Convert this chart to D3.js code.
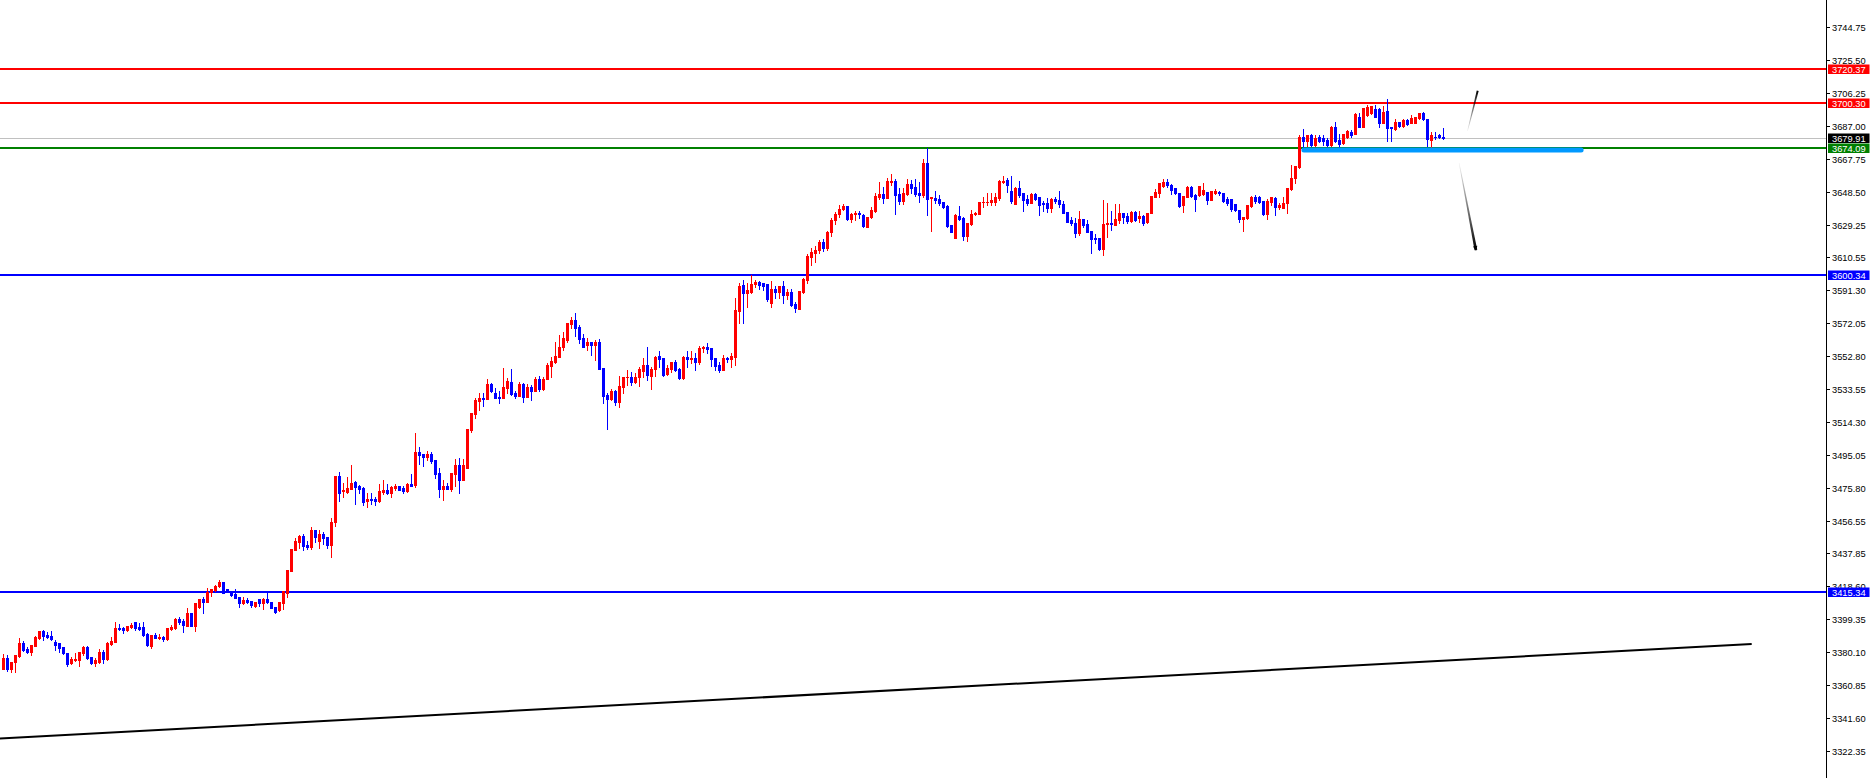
<!DOCTYPE html>
<html><head><meta charset="utf-8">
<script src="https://cdn.jsdelivr.net/npm/d3@7"></script>
<style>html,body{margin:0;padding:0;background:#fff;overflow:hidden}</style>
</head><body><svg id="c" width="1871" height="778"></svg>
<script>
// ---- data ----
const opens=[3370.2,3376.5,3370.2,3374.1,3377.8,3385.2,3381.9,3380.3,3383.8,3388.5,
3392.4,3390.1,3389.5,3386.2,3385.2,3382.9,3379.8,3373.5,3375.5,3375.5,
3379.8,3383.3,3377.4,3373.9,3374.5,3380.3,3376.1,3384.8,3386.2,3394.4,
3394.4,3393.0,3394.9,3397.5,3394.9,3394.6,3390.7,3383.6,3390.1,3388.5,
3389.1,3387.7,3393.6,3394.0,3399.2,3398.4,3395.5,3403.1,3395.5,3406.2,
3411.1,3409.5,3415.4,3416.3,3418.9,3421.2,3416.9,3415.7,3413.8,3412.1,
3408.6,3410.5,3410.1,3407.2,3410.9,3408.6,3411.1,3409.5,3406.6,3404.7,
3408.9,3414.8,3427.6,3439.7,3444.5,3447.8,3442.6,3441.6,3451.4,3445.1,
3448.8,3447.1,3442.6,3456.2,3482.9,3474.1,3473.3,3475.3,3479.6,3477.0,
3475.7,3468.3,3469.4,3469.4,3468.5,3473.3,3474.7,3472.7,3475.7,3477.0,
3475.7,3474.1,3478.2,3477.6,3497.1,3495.7,3494.1,3495.7,3492.2,3484.8,
3475.3,3477.0,3475.3,3484.0,3489.3,3480.5,3487.7,3509.7,3519.0,3526.8,
3528.6,3527.6,3536.4,3531.1,3529.2,3528.6,3534.4,3537.5,3531.1,3529.6,
3536.4,3529.2,3534.6,3532.7,3539.5,3533.4,3539.3,3547.1,3549.6,3552.5,
3557.9,3562.2,3571.6,3573.9,3570.0,3563.2,3559.3,3561.2,3559.3,3561.2,
3546.1,3530.1,3527.6,3532.5,3526.3,3535.0,3540.4,3540.8,3537.9,3540.4,
3544.3,3547.6,3541.4,3545.1,3552.9,3551.5,3542.2,3545.1,3549.6,3545.3,
3539.9,3552.5,3551.1,3551.9,3549.6,3557.3,3558.3,3557.3,3551.9,3547.6,
3544.7,3551.9,3550.9,3552.5,3579.3,3594.3,3589.5,3590.4,3594.7,3596.3,
3595.3,3594.7,3583.6,3592.0,3590.0,3593.7,3588.5,3590.0,3583.2,3580.3,
3590.0,3597.2,3610.5,3613.0,3615.0,3619.5,3616.0,3625.0,3632.5,3636.0,
3638.7,3640.6,3632.8,3635.6,3636.5,3635.2,3628.4,3634.2,3637.7,3645.9,
3647.4,3645.3,3654.6,3655.2,3647.4,3643.3,3647.4,3653.3,3651.7,3648.2,
3646.8,3665.7,3645.0,3644.9,3644.5,3643.0,3640.6,3629.3,3621.9,3634.8,
3633.6,3623.1,3629.9,3635.8,3635.8,3642.6,3642.6,3643.0,3642.6,3644.9,
3654.6,3655.6,3649.2,3641.4,3651.1,3648.2,3644.3,3642.0,3647.4,3645.5,
3642.0,3642.0,3639.1,3644.5,3643.9,3641.4,3637.1,3632.3,3630.7,3624.5,
3632.8,3629.9,3626.0,3621.9,3621.6,3615.3,3629.9,3630.4,3629.3,3632.2,
3636.5,3634.6,3631.9,3637.1,3633.6,3634.6,3631.3,3636.2,3645.9,3648.2,
3652.1,3654.6,3652.7,3650.7,3648.2,3641.0,3645.9,3651.3,3646.9,3646.9,
3647.4,3648.8,3643.9,3648.2,3648.8,3647.8,3644.3,3644.3,3641.6,3638.1,
3632.8,3633.2,3640.4,3645.5,3645.9,3643.5,3635.8,3643.0,3645.3,3639.6,
3639.4,3642.0,3650.1,3656.6,3663.4,3680.9,3678.5,3681.9,3676.0,3680.9,
3680.3,3678.9,3676.0,3686.7,3679.0,3677.0,3680.9,3683.8,3682.4,3692.6,
3686.3,3693.5,3694.5,3696.8,3696.8,3689.0,3696.1,3686.7,3685.2,3689.6,
3687.1,3690.6,3689.0,3689.0,3691.6,3694.5,3691.0,3678.9,3680.9,3681.9,3680.5];
const highs=[3378.8,3378.4,3374.5,3378.4,3388.1,3386.8,3382.9,3384.2,3389.5,3392.4,
3393.0,3392.0,3392.4,3387.2,3385.2,3382.9,3379.8,3377.0,3379.8,3380.3,
3383.6,3383.6,3377.4,3376.8,3381.7,3381.3,3386.2,3388.7,3397.9,3396.5,
3394.9,3395.5,3396.9,3397.9,3397.3,3397.5,3391.4,3390.1,3391.0,3390.7,
3389.7,3394.4,3395.9,3399.8,3400.4,3399.2,3406.0,3403.1,3408.6,3411.1,
3412.1,3417.3,3416.9,3419.3,3422.2,3421.2,3416.9,3415.7,3416.9,3412.1,
3412.4,3411.9,3410.1,3409.5,3410.9,3411.5,3414.4,3409.5,3406.6,3409.5,
3415.7,3428.0,3440.3,3446.9,3448.4,3449.0,3444.9,3452.9,3451.4,3451.4,
3450.4,3447.1,3458.1,3482.9,3485.4,3479.0,3482.1,3489.3,3479.9,3477.6,
3476.2,3472.7,3472.7,3470.8,3478.2,3480.5,3478.2,3477.0,3478.2,3477.0,
3477.0,3479.0,3484.0,3508.1,3500.0,3495.7,3497.4,3497.1,3492.2,3487.3,
3480.5,3478.6,3484.8,3492.6,3493.5,3492.6,3510.3,3519.4,3528.6,3531.1,
3531.1,3539.5,3537.0,3534.0,3532.5,3545.7,3539.9,3545.1,3532.7,3537.5,
3537.0,3536.4,3536.0,3540.4,3541.2,3540.4,3549.0,3552.5,3561.3,3565.1,
3567.1,3571.9,3575.8,3578.2,3571.0,3565.7,3563.2,3561.2,3562.2,3562.6,
3546.1,3531.1,3533.4,3533.0,3541.2,3540.8,3544.7,3543.7,3542.8,3546.7,
3551.5,3557.9,3546.7,3552.9,3555.8,3551.5,3547.6,3549.6,3550.6,3545.7,
3552.9,3556.0,3556.0,3554.4,3558.7,3558.7,3560.7,3557.3,3551.9,3549.6,
3553.5,3552.5,3554.4,3586.5,3595.3,3597.2,3595.3,3600.2,3597.2,3596.9,
3595.7,3594.7,3596.7,3593.7,3593.7,3596.7,3592.0,3592.0,3584.6,3590.8,
3598.2,3612.5,3616.0,3617.0,3620.5,3621.0,3626.0,3633.5,3637.0,3641.0,
3641.6,3640.6,3636.5,3637.5,3637.7,3635.8,3634.2,3640.0,3647.8,3654.6,
3651.3,3656.6,3659.1,3656.0,3651.1,3650.7,3656.2,3655.6,3656.0,3654.6,
3667.9,3674.5,3645.9,3649.2,3646.8,3643.0,3641.0,3629.3,3635.6,3640.6,
3634.2,3630.3,3638.1,3637.1,3643.0,3645.9,3647.8,3647.8,3647.8,3655.6,
3657.9,3656.6,3657.9,3651.7,3655.0,3648.2,3646.8,3647.8,3647.8,3645.9,
3643.3,3644.9,3644.9,3645.5,3649.2,3643.3,3637.1,3634.2,3633.2,3637.7,
3632.8,3632.3,3626.0,3623.9,3621.6,3643.9,3642.0,3637.5,3641.4,3641.4,
3636.5,3636.2,3637.7,3637.7,3637.7,3635.2,3636.5,3646.3,3650.1,3653.6,
3656.0,3656.0,3653.3,3650.7,3648.2,3646.3,3652.1,3652.1,3647.4,3652.1,
3654.0,3648.8,3649.4,3650.1,3649.4,3648.2,3645.5,3644.3,3641.6,3638.1,
3634.2,3641.0,3646.3,3646.9,3646.3,3643.5,3644.3,3645.5,3645.9,3642.0,
3645.5,3650.7,3664.4,3663.8,3681.9,3685.2,3681.9,3682.4,3681.9,3681.9,
3681.9,3679.9,3687.3,3689.6,3682.4,3682.4,3684.8,3684.8,3694.5,3694.5,
3697.4,3699.4,3698.8,3699.4,3697.4,3698.8,3702.9,3686.7,3691.0,3689.6,
3691.0,3691.0,3693.5,3692.2,3694.5,3695.1,3691.0,3683.8,3683.4,3682.2,3685.7];
const lows=[3370.0,3369.1,3368.7,3368.7,3377.4,3380.9,3379.8,3378.4,3383.8,3387.7,
3387.2,3388.5,3387.2,3381.3,3380.3,3379.0,3372.2,3373.2,3375.1,3372.2,
3378.4,3376.1,3373.2,3372.2,3373.9,3373.9,3375.5,3384.2,3386.2,3393.0,
3391.0,3392.6,3394.0,3393.0,3393.0,3389.7,3383.6,3382.7,3388.1,3387.5,
3386.6,3387.2,3393.0,3393.6,3396.5,3392.0,3395.3,3395.5,3392.6,3405.6,
3403.1,3409.1,3413.0,3415.7,3418.3,3414.4,3415.0,3413.0,3411.9,3406.6,
3408.0,3408.6,3406.6,3406.6,3407.2,3405.0,3408.6,3405.6,3403.1,3404.1,
3405.2,3412.1,3427.6,3439.7,3440.7,3439.7,3440.3,3440.3,3444.5,3441.0,
3443.2,3441.0,3435.8,3453.9,3468.5,3470.8,3472.7,3475.3,3466.5,3473.1,
3465.9,3465.0,3466.5,3465.9,3467.9,3472.4,3472.4,3470.8,3474.7,3474.7,
3473.1,3473.7,3477.2,3476.6,3489.7,3488.9,3492.2,3490.2,3481.9,3470.8,
3468.9,3475.1,3474.3,3477.0,3472.7,3480.5,3487.3,3508.7,3516.9,3521.4,
3523.9,3527.6,3532.1,3528.2,3525.3,3528.6,3531.1,3530.1,3528.2,3529.6,
3525.8,3529.2,3527.2,3532.7,3532.7,3533.0,3539.3,3540.4,3549.0,3552.5,
3556.4,3561.3,3569.0,3564.6,3560.3,3557.9,3556.4,3553.5,3550.6,3545.3,
3525.3,3510.3,3527.2,3524.3,3523.3,3531.5,3536.0,3536.0,3536.9,3535.4,
3540.8,3538.9,3533.6,3541.2,3546.7,3541.2,3541.8,3543.4,3544.3,3539.5,
3539.5,3546.7,3548.6,3544.7,3548.0,3555.4,3554.8,3547.1,3544.7,3543.7,
3544.7,3549.2,3546.7,3547.6,3572.3,3572.3,3581.3,3589.5,3593.3,3591.8,
3591.4,3585.2,3581.3,3586.9,3586.5,3584.0,3586.0,3582.3,3578.8,3580.3,
3589.5,3595.7,3606.0,3608.0,3613.0,3614.0,3615.0,3623.0,3630.0,3634.0,
3638.1,3632.3,3631.3,3632.3,3633.6,3628.4,3628.0,3633.6,3637.1,3644.3,
3642.0,3645.3,3652.7,3635.8,3641.4,3641.4,3646.8,3647.8,3646.3,3643.0,
3645.9,3635.2,3626.0,3642.4,3641.0,3639.1,3628.0,3625.1,3621.9,3632.3,
3620.6,3620.0,3629.3,3635.2,3635.8,3640.0,3641.0,3641.0,3641.0,3643.9,
3653.6,3648.8,3642.4,3641.4,3645.9,3637.7,3641.0,3642.0,3643.9,3635.2,
3637.7,3637.1,3637.1,3642.0,3640.0,3636.5,3630.9,3629.3,3622.5,3623.5,
3628.4,3625.1,3613.2,3618.6,3614.8,3611.8,3622.1,3626.5,3629.3,3630.3,
3630.3,3630.3,3631.3,3631.9,3631.3,3629.3,3630.3,3636.2,3645.5,3645.9,
3651.7,3651.7,3647.4,3647.4,3640.0,3637.1,3645.5,3645.9,3637.7,3646.3,
3646.9,3641.6,3643.9,3647.4,3646.9,3642.9,3641.0,3637.7,3637.7,3631.3,
3626.0,3632.8,3639.6,3642.4,3642.4,3635.2,3632.8,3641.0,3635.2,3638.5,
3639.1,3636.2,3649.8,3653.6,3662.4,3673.1,3675.4,3675.4,3675.4,3678.0,
3676.0,3675.4,3675.4,3678.0,3675.0,3676.6,3679.9,3680.9,3682.4,3686.3,
3686.3,3692.9,3693.9,3692.6,3686.3,3688.7,3678.6,3678.6,3684.8,3686.7,
3686.7,3687.7,3688.7,3688.7,3691.0,3690.6,3675.6,3675.1,3679.3,3679.9,3679.3];
const closes=[3376.5,3370.2,3374.5,3378.4,3385.2,3381.3,3380.3,3384.2,3389.1,3392.4,
3389.5,3389.1,3387.7,3384.2,3382.7,3379.4,3373.2,3376.1,3376.1,3380.3,
3383.3,3376.5,3373.9,3375.5,3380.3,3376.1,3385.2,3386.8,3394.0,3393.6,
3393.0,3395.3,3395.9,3394.0,3393.6,3390.1,3384.2,3390.1,3388.5,3389.1,
3387.9,3394.0,3394.9,3399.4,3397.9,3395.9,3403.1,3395.5,3408.6,3411.1,
3409.5,3415.4,3416.9,3418.9,3421.2,3414.8,3415.4,3413.4,3411.9,3408.6,
3410.5,3409.5,3407.6,3409.5,3408.6,3411.1,3409.1,3406.0,3403.7,3409.5,
3415.7,3428.0,3440.3,3445.1,3447.8,3442.2,3441.6,3451.4,3447.1,3449.0,
3446.9,3442.6,3455.8,3482.9,3473.1,3474.5,3475.7,3478.6,3476.6,3475.3,
3467.9,3469.4,3468.9,3468.5,3474.1,3474.7,3472.7,3476.2,3477.0,3474.7,
3474.1,3478.2,3477.2,3497.1,3495.1,3494.1,3495.7,3491.6,3484.0,3475.3,
3477.0,3475.3,3484.8,3489.3,3480.5,3489.3,3510.3,3519.4,3527.2,3528.6,
3527.6,3536.4,3532.5,3528.6,3528.6,3534.6,3538.3,3530.7,3529.6,3536.4,
3529.2,3534.6,3532.7,3539.5,3533.4,3539.5,3547.6,3550.0,3552.9,3557.9,
3563.2,3571.9,3573.9,3569.4,3562.8,3558.3,3561.2,3559.3,3561.2,3545.3,
3529.6,3527.6,3532.5,3525.8,3535.4,3540.8,3540.8,3537.9,3540.8,3545.1,
3547.6,3541.8,3545.3,3552.5,3551.1,3541.8,3546.1,3549.6,3544.7,3539.9,
3552.5,3551.1,3551.9,3549.6,3557.8,3558.3,3556.8,3551.1,3547.1,3544.7,
3551.9,3551.1,3552.9,3579.7,3593.7,3589.5,3591.4,3594.9,3596.3,3594.3,
3593.9,3585.9,3592.0,3590.0,3593.7,3588.5,3590.4,3582.7,3580.7,3590.8,
3597.8,3611.0,3613.5,3615.0,3619.5,3616.0,3625.0,3632.5,3636.0,3638.5,
3640.6,3632.8,3635.8,3636.5,3635.6,3628.9,3634.2,3638.1,3646.3,3647.4,
3645.3,3655.2,3655.2,3646.9,3643.3,3648.2,3653.3,3650.7,3647.4,3646.8,
3665.7,3644.5,3645.9,3643.9,3642.0,3640.0,3628.8,3625.1,3635.2,3632.8,
3623.1,3630.3,3635.8,3636.5,3643.0,3643.0,3643.0,3643.9,3645.9,3655.2,
3655.2,3652.7,3643.3,3650.7,3646.8,3643.9,3642.4,3647.4,3644.5,3641.0,
3641.4,3639.1,3644.5,3643.3,3641.4,3636.5,3631.3,3630.3,3624.5,3632.8,
3629.3,3625.4,3621.2,3621.2,3615.3,3629.9,3630.4,3629.9,3632.8,3636.5,
3634.2,3631.7,3637.1,3632.3,3634.6,3630.7,3636.5,3646.3,3648.8,3653.6,
3654.6,3652.7,3649.8,3647.8,3640.4,3646.3,3651.3,3646.3,3644.5,3652.1,
3649.8,3643.9,3649.2,3649.2,3647.8,3643.3,3642.4,3638.5,3638.1,3632.8,
3634.2,3641.0,3645.9,3643.3,3643.0,3635.8,3643.5,3645.5,3640.0,3641.0,
3642.0,3650.7,3657.0,3663.8,3680.9,3678.5,3681.9,3676.0,3680.3,3678.5,
3678.4,3676.0,3686.7,3678.5,3676.6,3682.4,3684.2,3681.9,3694.1,3686.3,
3697.4,3698.4,3698.8,3692.6,3689.0,3695.5,3685.7,3685.7,3689.6,3687.1,
3690.6,3688.3,3691.6,3692.2,3694.5,3691.0,3679.3,3681.9,3680.5,3680.5,3679.9];

const tickLabels=[3744.75,3725.50,3706.25,3687.00,3667.75,3648.50,3629.25,3610.55,3591.30,3572.05,
3552.80,3533.55,3514.30,3495.05,3475.80,3456.55,3437.85,3418.60,3399.35,3380.10,3360.85,3341.60,3322.35];
const resistanceLevels=[3720.37,3700.30];
const supportLevels=[3600.34,3415.34];
const greenLevel=3674.09;
const bidPrice=3679.91;
const zoneSegment=[325.1,394.4];     // bar index range
const zonePrice=3673.1;
const trendPoints=[[-0.9,3329.7],[437.05,3384.8]];
const upArrow=[[366.0,3684.2],[368.55,3707.7]];
const downArrow=[[363.9,3665.5],[368.1,3614.7]];

// ---- drawing ----
const W=1871,H=778, axisX=1826.5;
const svg=d3.select('#c');
const x=d3.scaleLinear().domain([0,360]).range([3.5,1443.5]);
const y=d3.scaleLinear().domain([3306.62,3760.64]).range([H,0]);
const font='"Liberation Sans", Arial, sans-serif';

const defs=svg.append('defs');

const bars=d3.range(opens.length).map(i=>({i,o:opens[i],h:highs[i],l:lows[i],c:closes[i]}));

// trend line
svg.append('line')
  .attr('x1',x(trendPoints[0][0])).attr('y1',y(trendPoints[0][1]))
  .attr('x2',x(trendPoints[1][0])).attr('y2',y(trendPoints[1][1]))
  .attr('stroke','#000').attr('stroke-width',2);

// bid line
svg.append('line').attr('x1',0).attr('x2',axisX+1.5)
  .attr('y1',Math.round(y(bidPrice))+0.5).attr('y2',Math.round(y(bidPrice))+0.5)
  .attr('stroke','#c0c0c0').attr('stroke-width',1);

// horizontal levels
function hline(p,color){
  const yy=Math.round(y(p));
  svg.append('line').attr('x1',0).attr('x2',axisX+2).attr('y1',yy).attr('y2',yy)
    .attr('stroke',color).attr('stroke-width',2);
}
resistanceLevels.forEach(p=>hline(p,'#ff0000'));
supportLevels.forEach(p=>hline(p,'#0000ff'));
hline(greenLevel,'#008000');

// candles
const g=svg.append('g');
g.selectAll('line.w').data(bars).join('line').attr('class','w')
  .attr('x1',d=>x(d.i)).attr('x2',d=>x(d.i))
  .attr('y1',d=>Math.round(y(d.h))).attr('y2',d=>Math.round(y(d.l))+1)
  .attr('stroke',d=>d.c>=d.o?'#ff0000':'#0000ff').attr('stroke-width',1);
g.selectAll('rect.b').data(bars).join('rect').attr('class','b')
  .attr('x',d=>x(d.i)-1.5).attr('width',3)
  .attr('y',d=>Math.round(y(Math.max(d.o,d.c))))
  .attr('height',d=>Math.max(1,Math.round(y(Math.min(d.o,d.c)))-Math.round(y(Math.max(d.o,d.c)))+1))
  .attr('fill',d=>d.c>=d.o?'#ff0000':'#0000ff');

// zone (thick light-blue segment)
svg.append('line')
  .attr('x1',x(zoneSegment[0])).attr('x2',x(zoneSegment[1]))
  .attr('y1',y(zonePrice)).attr('y2',y(zonePrice))
  .attr('stroke','#0099ff').attr('stroke-width',5).attr('stroke-linecap','round');

// tapered arrows
function taper(pts,id,w0,w1,head){
  const x0=x(pts[0][0]),y0=y(pts[0][1]),x1=x(pts[1][0]),y1=y(pts[1][1]);
  const dx=x1-x0,dy=y1-y0,len=Math.hypot(dx,dy),nx=-dy/len,ny=dx/len;
  const gr=defs.append('linearGradient').attr('id',id).attr('gradientUnits','userSpaceOnUse')
    .attr('x1',x0).attr('y1',y0).attr('x2',x1).attr('y2',y1);
  gr.append('stop').attr('offset',0).attr('stop-color','#000').attr('stop-opacity',0.05);
  gr.append('stop').attr('offset',0.6).attr('stop-color','#000').attr('stop-opacity',0.6);
  gr.append('stop').attr('offset',1).attr('stop-color','#000').attr('stop-opacity',1);
  const poly=[[x0+nx*w0,y0+ny*w0],[x1+nx*w1,y1+ny*w1],[x1-nx*w1,y1-ny*w1],[x0-nx*w0,y0-ny*w0]];
  svg.append('path').attr('d','M'+poly.map(p=>p.join(',')).join('L')+'Z').attr('fill','url(#'+id+')');
  if(head){
    const ux=dx/len,uy=dy/len,hl=4,hw=2.2;
    const tip=[x1+ux*1,y1+uy*1];
    const b=[x1-ux*hl,y1-uy*hl];
    svg.append('path').attr('d',`M${tip}L${b[0]+nx*hw},${b[1]+ny*hw}L${b[0]-nx*hw},${b[1]-ny*hw}Z`).attr('fill','#000');
  }
}
taper(upArrow,'gu',0.3,1.0,false);
taper(downArrow,'gd',0.3,1.4,true);

// price axis
svg.append('rect').attr('x',axisX+0.5).attr('y',0).attr('width',W-axisX).attr('height',H).attr('fill','#fff');
svg.append('line').attr('x1',axisX).attr('x2',axisX).attr('y1',0).attr('y2',H).attr('stroke','#000').attr('stroke-width',1);
const ax=svg.append('g');
tickLabels.forEach(v=>{
  const yy=Math.round(y(v));
  ax.append('line').attr('x1',axisX).attr('x2',axisX+3.5).attr('y1',yy+0.5).attr('y2',yy+0.5).attr('stroke','#000');
  ax.append('text').attr('x',axisX+5.5).attr('y',yy+0.5).attr('dy','0.35em')
    .attr('font-family',font).attr('font-size',9.3).attr('fill','#000').text(v.toFixed(2));
});
function tag(p,bg,fg){
  const yy=Math.round(y(p));
  // short stub of line into the tag area
  ax.append('rect').attr('x',axisX+1.5).attr('y',yy-4.5).attr('width',W-axisX-3).attr('height',9.5).attr('fill',bg);
  ax.append('text').attr('x',axisX+5.5).attr('y',yy+0.3).attr('dy','0.35em')
    .attr('font-family',font).attr('font-size',9.3).attr('fill',fg).text(p.toFixed(2));
}
resistanceLevels.forEach(p=>tag(p,'#ff0000','#fff'));
supportLevels.forEach(p=>tag(p,'#0000ff','#fff'));
tag(bidPrice,'#000000','#fff');
tag(greenLevel,'#008000','#fff');
</script></body></html>
